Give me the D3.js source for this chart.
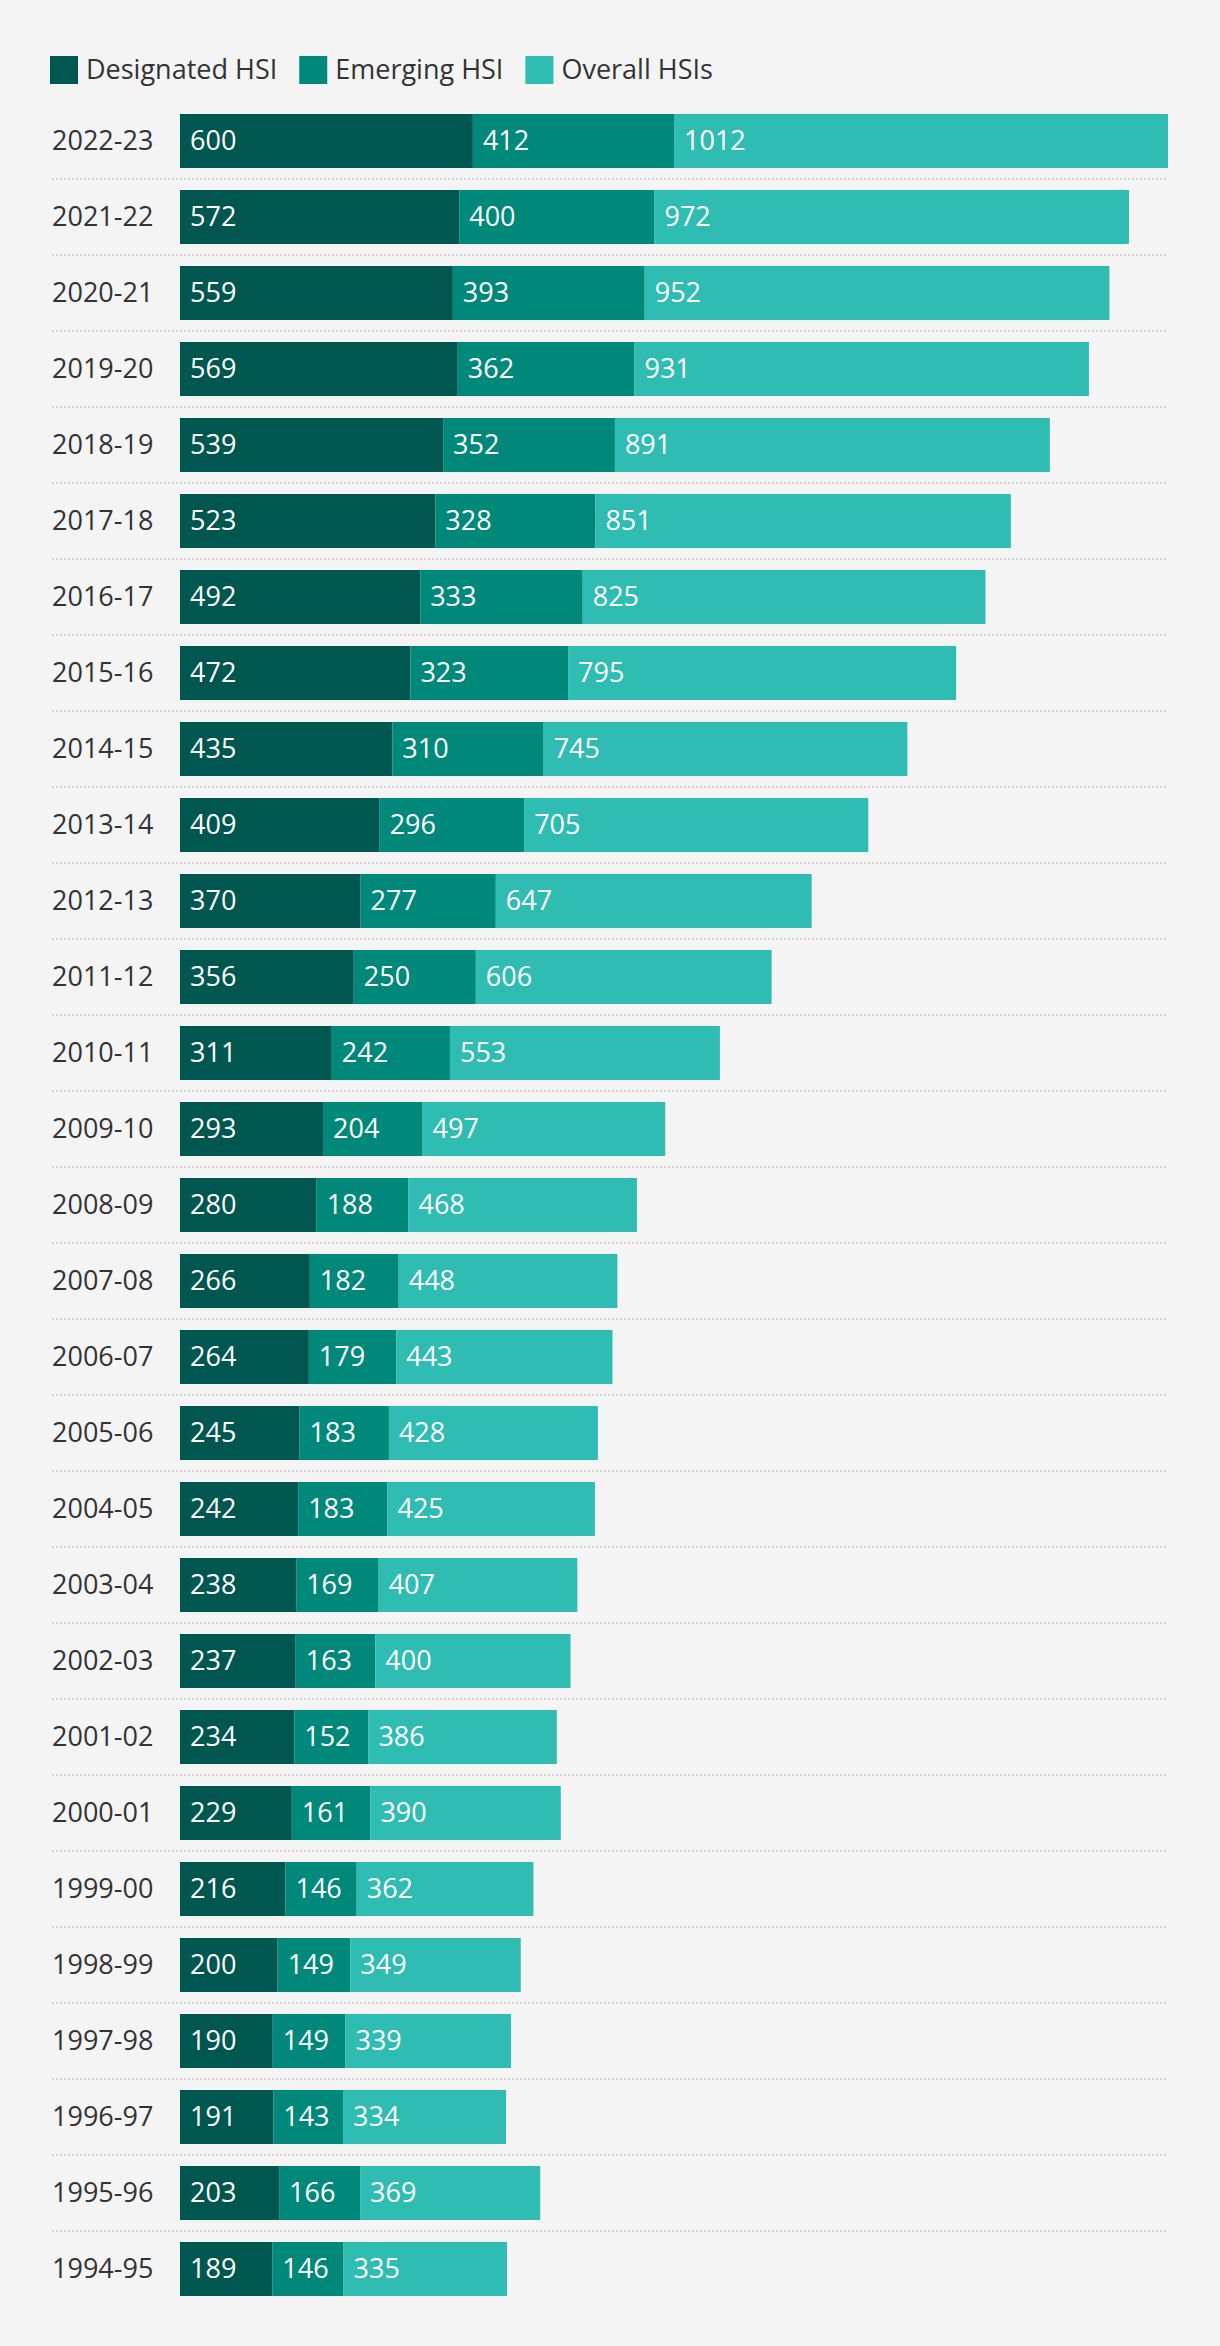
<!DOCTYPE html>
<html>
<head>
<meta charset="utf-8">
<script src="https://cdn.jsdelivr.net/npm/d3@7"></script>
<style>
  html, body { margin: 0; padding: 0; background: #f4f4f4; }
  svg { display: block; }
  text { font-family: "Open Sans", "Liberation Sans", sans-serif; }
</style>
</head>
<body>
<svg id="chart" width="1220" height="2346"></svg>
<script>
const categories = ["2022-23","2021-22","2020-21","2019-20","2018-19","2017-18","2016-17","2015-16","2014-15","2013-14","2012-13","2011-12","2010-11","2009-10","2008-09","2007-08","2006-07","2005-06","2004-05","2003-04","2002-03","2001-02","2000-01","1999-00","1998-99","1997-98","1996-97","1995-96","1994-95"];
const designated = [600,572,559,569,539,523,492,472,435,409,370,356,311,293,280,266,264,245,242,238,237,234,229,216,200,190,191,203,189];
const emerging   = [412,400,393,362,352,328,333,323,310,296,277,250,242,204,188,182,179,183,183,169,163,152,161,146,149,149,143,166,146];
const overall    = [1012,972,952,931,891,851,825,795,745,705,647,606,553,497,468,448,443,428,425,407,400,386,390,362,349,339,334,369,335];
const seriesNames = ["Designated HSI","Emerging HSI","Overall HSIs"];
const seriesColors = ["#00574f","#00897b","#2fbcb2"];

const rows = categories.map((c, i) => ({
  cat: c,
  "Designated HSI": designated[i],
  "Emerging HSI": emerging[i],
  "Overall HSIs": overall[i]
}));

const svg = d3.select("#chart");
svg.append("rect").attr("width", 1220).attr("height", 2346).attr("fill", "#f4f4f4");

const stack = d3.stack().keys(seriesNames);
const stacked = stack(rows);
const maxTotal = d3.max(stacked[stacked.length - 1], d => d[1]);

const x = d3.scaleLinear().domain([0, maxTotal]).range([180, 1168]);
const y = d3.scaleBand().domain(categories)
  .range([103, 103 + categories.length * 76])
  .paddingInner(22 / 76)
  .paddingOuter(11 / 76);
const color = d3.scaleOrdinal().domain(seriesNames).range(seriesColors);

// dotted separators between rows
const step = y.step();
svg.append("g").selectAll("line")
  .data(categories.slice(1))
  .join("line")
  .attr("x1", 52).attr("x2", 1168)
  .attr("y1", d => y(d) - (step - y.bandwidth()) / 2)
  .attr("y2", d => y(d) - (step - y.bandwidth()) / 2)
  .attr("stroke", "#d2d2d2")
  .attr("stroke-width", 2)
  .attr("stroke-dasharray", "2,2");

// category labels
svg.append("g").selectAll("text")
  .data(categories)
  .join("text")
  .attr("x", 52)
  .attr("y", d => y(d) + y.bandwidth() / 2)
  .attr("dy", "0.35em")
  .attr("font-size", 27)
  .attr("fill", "#333333")
  .text(d => d);

// bars
const layers = svg.append("g").selectAll("g")
  .data(stacked)
  .join("g")
  .attr("fill", d => color(d.key));

layers.selectAll("rect")
  .data(d => d)
  .join("rect")
  .attr("x", d => x(d[0]))
  .attr("y", d => y(d.data.cat))
  .attr("width", d => x(d[1]) - x(d[0]))
  .attr("height", y.bandwidth());

// value labels
const labels = svg.append("g");
stacked.forEach(layer => {
  labels.selectAll(null)
    .data(layer)
    .join("text")
    .attr("x", d => x(d[0]) + 10)
    .attr("y", d => y(d.data.cat) + y.bandwidth() / 2)
    .attr("dy", "0.35em")
    .attr("font-size", 27)
    .attr("fill", "#ffffff")
    .text(d => d.data[layer.key]);
});

// legend
const legend = svg.append("g");
let lx = 50;
seriesNames.forEach(name => {
  legend.append("rect")
    .attr("x", lx).attr("y", 56)
    .attr("width", 28).attr("height", 28)
    .attr("fill", color(name));
  const t = legend.append("text")
    .attr("x", lx + 36)
    .attr("y", 70)
    .attr("dy", "0.35em")
    .attr("font-size", 27)
    .attr("fill", "#333333")
    .text(name);
  lx = lx + 36 + t.node().getComputedTextLength() + 22;
});
</script>
</body>
</html>
